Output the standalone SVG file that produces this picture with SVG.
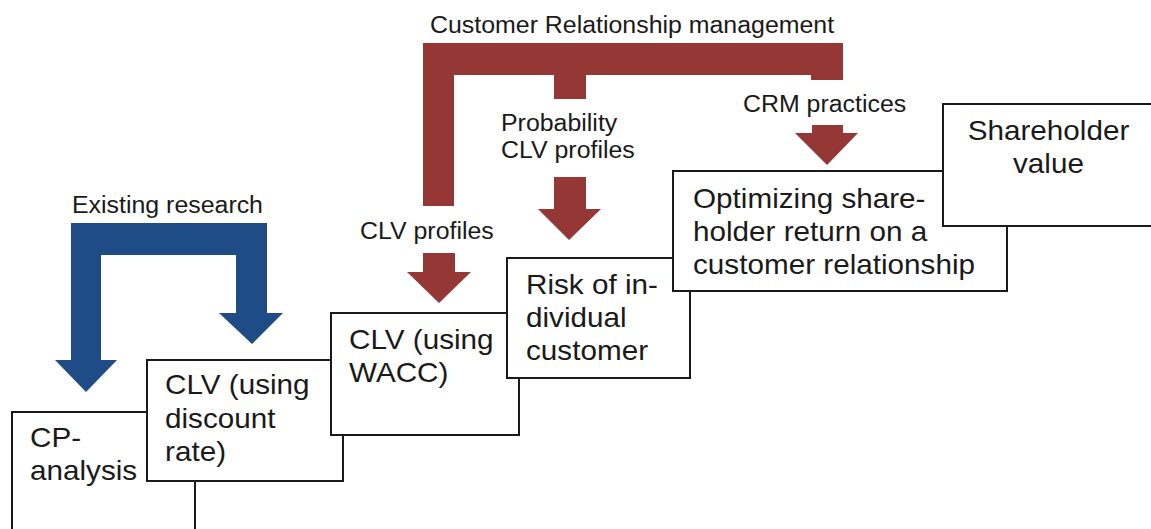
<svg xmlns="http://www.w3.org/2000/svg" width="1151" height="529" viewBox="0 0 1151 529">
<style>
.box{fill:#fff;stroke:#1a1a1a;stroke-width:2}
.bt{font-family:"Liberation Sans",Arial,sans-serif;font-size:28px;fill:#1a1a1a}
.lb{font-family:"Liberation Sans",Arial,sans-serif;font-size:23.5px;fill:#1a1a1a}
.blue{fill:#1F4B87}
.red{fill:#953735}
</style>
<rect width="1151" height="529" fill="#fff"/>
<g id="node-cp-analysis">
<rect class="box" x="12" y="412" width="183" height="140"/>
<text class="bt" transform="translate(30,447) scale(1.06,1)"><tspan x="0" y="0">CP-</tspan><tspan x="0" y="33">analysis</tspan></text>
</g>
<g id="node-clv-discount">
<rect class="box" x="147" y="360" width="196" height="121"/>
<text class="bt" transform="translate(165,394) scale(1.06,1)"><tspan x="0" y="0">CLV (using</tspan><tspan x="0" y="34">discount</tspan><tspan x="0" y="67">rate)</tspan></text>
</g>
<g id="node-clv-wacc">
<rect class="box" x="331" y="313" width="188" height="122"/>
<text class="bt" transform="translate(349,349) scale(1.06,1)"><tspan x="0" y="0">CLV (using</tspan><tspan x="0" y="33">WACC)</tspan></text>
</g>
<g id="node-risk">
<rect class="box" x="507" y="258" width="183" height="120"/>
<text class="bt" transform="translate(526,294) scale(1.06,1)"><tspan x="0" y="0">Risk of in-</tspan><tspan x="0" y="33">dividual</tspan><tspan x="0" y="66">customer</tspan></text>
</g>
<g id="node-optimizing">
<rect class="box" x="673" y="171" width="334" height="120"/>
<text class="bt" transform="translate(693,208) scale(1.06,1)"><tspan x="0" y="0">Optimizing share-</tspan><tspan x="0" y="33">holder return on a</tspan><tspan x="0" y="66">customer relationship</tspan></text>
</g>
<g id="node-shareholder">
<rect class="box" x="943" y="104" width="215" height="122"/>
<text class="bt" text-anchor="middle" transform="translate(1048.5,140) scale(1.06,1)"><tspan x="0" y="0">Shareholder</tspan><tspan x="0" y="33">value</tspan></text>
</g>
<g id="connectors">
<g id="existing-research">
<path class="blue" d="M71,223 H267 V313 H283 L252,344 L219,313 H236 V255 H101 V360 H117 L86,392 L55,360 H71 Z"/>
<text class="lb" transform="translate(72,213) scale(1.06,1)">Existing research</text>
</g>
<g id="crm">
<path class="red" d="M423,43 H843 V80 H811 V75 H586 V99 H554 V75 H454 V206 H423 Z"/>
<text class="lb" transform="translate(430,33) scale(1.06,1)">Customer Relationship management</text>
<path class="red" d="M423,253 H455 V272 H471 L439,303 L407,272 H423 Z"/>
<text class="lb" transform="translate(360,239) scale(1.06,1)">CLV profiles</text>
<path class="red" d="M554,177 H586 V209 H601 L569,240 L538,209 H554 Z"/>
<text class="lb" transform="translate(501,131) scale(1.06,1)"><tspan x="0" y="0">Probability</tspan><tspan x="0" y="27">CLV profiles</tspan></text>
<path class="red" d="M812,125 H843 V133 H858 L827,165 L795,133 H812 Z"/>
<text class="lb" transform="translate(743,112) scale(1.06,1)">CRM practices</text>
</g>
</g>
</svg>
